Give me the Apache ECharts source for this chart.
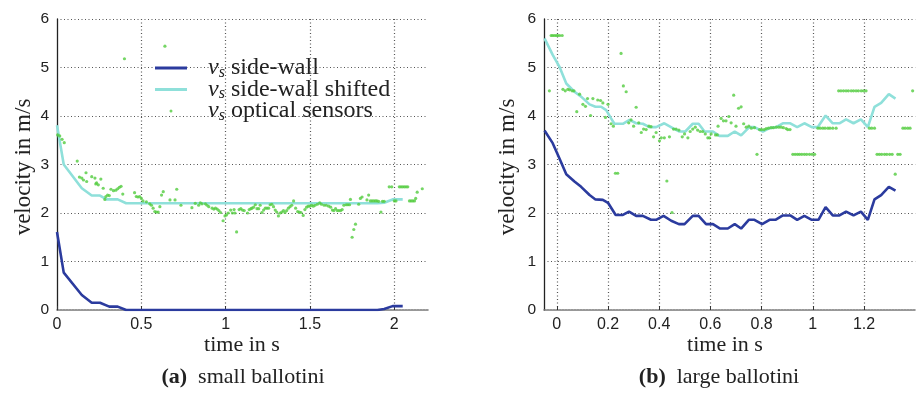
<!DOCTYPE html>
<html><head><meta charset="utf-8">
<script src="https://cdn.jsdelivr.net/npm/echarts@6/dist/echarts.min.js"></script>
<style>html,body{margin:0;padding:0;background:#fff}#c{width:917px;height:400px}</style>
</head><body><div id="c"></div>
<script>
// ---- data: (a) small ballotini ----
const sideWallA = [[0,1.61],[0.04,0.77],[0.147,0.31],[0.206,0.15],[0.255,0.15],[0.31,0.07],[0.36,0.07],[0.41,0],[1.9,0],[1.94,0.02],[1.99,0.08],[2.05,0.08]];
const shiftedA = [[0,3.81],[0.04,3.0],[0.147,2.51],[0.206,2.36],[0.255,2.36],[0.294,2.28],[0.36,2.28],[0.41,2.2],[1.9,2.2],[1.94,2.21],[1.99,2.28],[2.05,2.28]];
const opticalA = [[0.004,3.61],[0.016,3.59],[0.03,3.52],[0.043,3.45],[0.12,3.07],[0.133,2.74],[0.147,2.72],[0.157,2.68],[0.172,2.83],[0.176,2.65],
[0.206,2.75],[0.225,2.72],[0.23,2.6],[0.235,2.62],[0.245,2.58],[0.26,2.7],[0.274,2.51],[0.284,2.28],[0.29,2.34],[0.30,2.37],[0.31,2.36],
[0.32,2.49],[0.335,2.46],[0.349,2.47],[0.36,2.5],[0.37,2.53],[0.38,2.55],[0.39,2.39],[0.40,5.18],
[0.46,2.42],[0.47,2.34],[0.48,2.33],[0.49,2.34],[0.5,2.3],[0.51,2.25],[0.53,2.23],[0.55,2.19],[0.56,2.16],[0.57,2.1],[0.58,2.03],[0.59,2.02],[0.6,2.02],[0.61,2.13],[0.62,2.37],[0.63,2.44],[0.64,5.44],
[0.67,2.27],[0.70,2.27],[0.71,2.49],[0.735,2.16],[0.8,2.11],[0.82,2.2],[0.84,2.16],[0.85,2.21],[0.86,2.19],[0.88,2.19],[0.89,2.16],[0.9,2.13],[0.92,2.1],[0.93,2.08],[0.94,2.1],[0.95,2.08],[0.96,2.05],[0.97,2.01],[0.985,1.84],[0.996,1.94],[1.005,1.96],[1.015,2.0],[1.03,2.06],[1.04,2.0],[1.05,2.07],[1.055,2.0],[1.065,1.61],[1.08,2.07],[1.09,2.09],[1.1,2.06],[1.11,2.05],[1.13,2.0],[1.14,2.07],[1.15,2.09],[1.156,2.1],[1.166,2.12],[1.176,2.17],[1.186,2.09],[1.196,2.09],[1.205,2.16],[1.215,2.01],[1.225,2.06],[1.235,2.1],[1.245,2.1],[1.255,2.1],[1.264,2.17],[1.274,2.18],[1.284,2.13],[1.294,2.06],[1.303,2.02],[1.313,1.94],[1.323,2.0],[1.333,2.02],[1.343,2.05],[1.352,2.01],[1.362,2.05],[1.372,2.1],[1.382,2.13],[1.392,2.16],[1.403,2.25],[1.415,2.1],[1.427,2.03],[1.437,2.02],[1.447,2.01],[1.46,1.95],[1.47,2.07],[1.48,2.12],[1.49,2.14],[1.5,2.14],[1.51,2.16],[1.52,2.14],[1.53,2.16],[1.544,2.18],[1.558,2.21],[1.568,2.18],[1.584,2.16],[1.597,2.16],[1.611,2.14],[1.623,2.12],[1.633,2.06],[1.642,2.05],[1.652,2.09],[1.662,2.05],[1.672,2.05],[1.682,2.05],[1.691,2.07],[1.701,2.16],[1.715,2.17],[1.725,2.17],[1.735,2.17],[1.74,2.28],[1.75,1.5],[1.76,1.66],[1.77,1.77],[1.789,2.18],[1.799,2.3],[1.809,2.33],[1.838,2.27],[1.848,2.37],[1.858,2.25],[1.868,2.25],[1.878,2.25],[1.888,2.25],[1.897,2.25],[1.907,2.24],[1.921,2.02],[1.93,2.24],[1.94,2.24],[1.97,2.54],[1.985,2.54],[2.0,2.25],[2.01,2.25],[2.03,2.54],[2.04,2.54],[2.05,2.54],[2.06,2.54],[2.07,2.54],[2.08,2.54],[2.09,2.25],[2.1,2.25],[2.11,2.25],[2.12,2.25],[2.127,2.3],[2.136,2.43],[2.166,2.5]];

// ---- data: (b) large ballotini ----
const sideWallB = [[-0.048,3.70],[-0.016,3.44],[0.01,3.13],[0.037,2.80],[0.069,2.65],[0.095,2.54],[0.128,2.37],[0.151,2.28],[0.18,2.27],[0.2,2.21],[0.23,1.96],[0.258,1.96],[0.282,2.03],[0.31,1.94],[0.336,1.94],[0.368,1.86],[0.388,1.86],[0.417,1.94],[0.447,1.84],[0.477,1.77],[0.499,1.77],[0.531,1.94],[0.554,1.94],[0.583,1.77],[0.61,1.77],[0.638,1.68],[0.668,1.68],[0.695,1.77],[0.72,1.68],[0.75,1.86],[0.772,1.86],[0.802,1.77],[0.831,1.86],[0.854,1.86],[0.883,1.95],[0.912,1.95],[0.939,1.86],[0.967,1.94],[0.996,1.86],[1.022,1.86],[1.05,2.12],[1.078,1.95],[1.104,1.95],[1.13,2.03],[1.159,1.95],[1.188,2.03],[1.215,1.86],[1.241,2.28],[1.267,2.37],[1.297,2.54],[1.323,2.46]];
const shiftedB = [[-0.048,5.6],[-0.016,5.26],[0.01,5.02],[0.037,4.67],[0.069,4.5],[0.095,4.4],[0.128,4.24],[0.151,4.19],[0.173,4.19],[0.193,4.12],[0.212,3.95],[0.225,3.84],[0.258,3.84],[0.284,3.92],[0.31,3.85],[0.336,3.84],[0.362,3.77],[0.388,3.77],[0.42,3.85],[0.453,3.75],[0.479,3.68],[0.502,3.68],[0.531,3.84],[0.554,3.84],[0.577,3.68],[0.61,3.68],[0.635,3.59],[0.668,3.59],[0.695,3.68],[0.72,3.6],[0.752,3.77],[0.772,3.77],[0.805,3.68],[0.831,3.75],[0.857,3.77],[0.883,3.85],[0.912,3.85],[0.939,3.77],[0.967,3.85],[0.996,3.77],[1.019,3.77],[1.05,4.01],[1.078,3.85],[1.104,3.85],[1.13,3.93],[1.159,3.85],[1.188,3.93],[1.215,3.77],[1.241,4.19],[1.267,4.27],[1.297,4.45],[1.323,4.36]];
const opticalB = [[-0.029,4.52],[-0.022,5.66],[-0.016,5.66],[-0.009,5.66],[-0.002,5.66],[0.004,5.66],[0.011,5.66],[0.021,5.66],[0.024,4.55],[0.033,4.52],[0.043,4.55],[0.05,4.54],[0.06,4.52],[0.067,4.52],[0.078,4.09],[0.089,4.45],[0.102,4.24],[0.112,4.2],[0.12,4.36],[0.132,4.01],[0.141,4.36],[0.16,4.33],[0.171,4.32],[0.18,4.27],[0.19,3.97],[0.2,4.24],[0.212,3.84],[0.221,3.79],[0.229,2.82],[0.238,2.82],[0.251,5.29],[0.26,4.62],[0.271,4.5],[0.281,3.86],[0.29,3.92],[0.3,3.79],[0.31,4.18],[0.32,3.86],[0.33,3.66],[0.339,3.73],[0.349,3.72],[0.36,3.79],[0.368,3.78],[0.378,3.57],[0.388,3.66],[0.401,3.49],[0.408,3.55],[0.42,3.55],[0.43,2.66],[0.44,3.57],[0.45,2.01],[0.456,3.73],[0.466,3.73],[0.477,3.71],[0.49,3.57],[0.499,3.63],[0.512,3.55],[0.521,3.68],[0.531,3.73],[0.541,3.77],[0.55,3.71],[0.56,3.68],[0.57,3.68],[0.58,3.63],[0.59,3.55],[0.597,3.55],[0.603,3.63],[0.62,3.61],[0.627,3.61],[0.63,3.79],[0.642,3.95],[0.651,3.9],[0.661,3.9],[0.672,3.99],[0.681,3.86],[0.691,4.43],[0.7,3.79],[0.71,4.16],[0.72,4.19],[0.73,3.84],[0.74,3.77],[0.75,3.79],[0.76,3.75],[0.772,3.76],[0.782,3.21],[0.792,3.72],[0.80,3.72],[0.81,3.72],[0.818,3.74],[0.827,3.75],[0.837,3.76],[0.846,3.76],[0.857,3.77],[0.867,3.77],[0.876,3.77],[0.885,3.76],[0.896,3.74],[0.902,3.72],[0.911,3.72],
[0.922,3.21],[0.931,3.21],[0.94,3.21],[0.948,3.21],[0.957,3.21],[0.967,3.21],[0.976,3.21],[0.987,3.21],[0.997,3.21],[1.007,3.21],
[1.02,3.75],[1.029,3.75],[1.039,3.75],[1.048,3.75],[1.059,3.75],[1.067,3.75],[1.078,3.75],[1.091,3.75],
[1.101,4.52],[1.11,4.52],[1.12,4.52],[1.13,4.52],[1.139,4.52],[1.15,4.52],[1.159,4.52],[1.169,4.52],[1.178,4.52],[1.189,4.52],[1.198,4.52],[1.208,4.52],
[1.221,3.75],[1.23,3.75],[1.241,3.75],
[1.251,3.21],[1.26,3.21],[1.269,3.21],[1.28,3.21],[1.289,3.21],[1.3,3.21],[1.31,3.21],[1.322,2.8],[1.332,3.21],[1.341,3.21],
[1.352,3.75],[1.361,3.75],[1.371,3.75],[1.38,3.75],[1.39,4.52]];

const yTicks = [0,1,2,3,4,5,6];
const xTicksB = [0,0.2,0.4,0.6,0.8,1,1.2];
const legendSuffix = {'sw':'side-wall','sws':'side-wall shifted','opt':'optical sensors'};
const captions = ['small ballotini','large ballotini'];
const captionTags = ['(a)','(b)'];

const C_BLUE = '#2b3b9e', C_CYAN = '#8fe0da', C_GREEN = '#52cc3e';
const SANS = 'Liberation Sans, Arial, sans-serif';
const SERIF = 'Liberation Serif, Times New Roman, serif';
const GRIDLINE = {color:'#555', width:1.2, type:[1,2.5]};

function xAxisCfg(grid, min, max, extra) {
  return Object.assign({
    type:'value', gridIndex:grid, min:min, max:max,
    axisLine:{show:true, onZero:false, lineStyle:{color:'#777', width:1.6, type:[2,1]}},
    axisTick:{show:true, inside:true, length:4, lineStyle:{color:'#333'}},
    axisLabel:{show:true, fontFamily:SANS, fontSize:16, color:'#222', margin:7, showMinLabel:grid===0, showMaxLabel:false,
      formatter: v => String(+(+v).toFixed(2))},
    splitLine:{show:true, showMinLine:false, showMaxLine:false, lineStyle:GRIDLINE}
  }, extra);
}
function yAxisCfg(grid) {
  return {
    type:'value', gridIndex:grid, min:0, max:6, interval:1,
    axisLine:{show:true, onZero:false, lineStyle:{color:'#222', width:1.3}},
    axisTick:{show:false},
    axisLabel:{fontFamily:SANS, fontSize:15.5, color:'#222', margin:8},
    splitLine:{show:true, showMinLine:false, showMaxLine:true, lineStyle:GRIDLINE}
  };
}
function lineSeries(name, grid, data, color) {
  return {name, type:'line', xAxisIndex:grid, yAxisIndex:grid, data, symbol:'none', showSymbol:false,
    lineStyle:{color, width:2.6}, itemStyle:{color}, z:3};
}
function dotSeries(name, grid, data) {
  return {name, type:'scatter', xAxisIndex:grid, yAxisIndex:grid, data, symbol:'circle', symbolSize:3.2,
    itemStyle:{color:C_GREEN}, z:4};
}

const chart = echarts.init(document.getElementById('c'), null, {renderer:'canvas'});
chart.setOption({
  animation:false,
  backgroundColor:'#fff',
  grid:[
    {left:57, top:19, width:371, height:291},
    {left:544, top:19, width:371.2, height:291}
  ],
  xAxis:[
    xAxisCfg(0,0,2.2,{interval:0.5}),
    xAxisCfg(1,-0.05,1.4,{splitNumber:7})
  ],
  yAxis:[yAxisCfg(0), yAxisCfg(1)],
  legend:{
    show:true, orient:'vertical', left:150, top:51, itemWidth:32, itemHeight:3, itemGap:-3,
    data:[{name:'sw', icon:'rect'},{name:'sws', icon:'rect'},{name:'opt', icon:'circle'}],
    formatter: n => '{v|v}{s|s}{t| ' + legendSuffix[n] + '}',
    textStyle:{
      color:'#222',
      rich:{
        v:{fontFamily:SERIF, fontStyle:'italic', fontSize:24, color:'#222', padding:[0,0,0,16]},
        s:{fontFamily:SERIF, fontStyle:'italic', fontSize:16, color:'#222', padding:[9,0,0,0]},
        t:{fontFamily:SERIF, fontSize:24, color:'#222'}
      }
    }
  },
  series:[
    lineSeries('sw',0,sideWallA,C_BLUE),
    lineSeries('sws',0,shiftedA,C_CYAN),
    dotSeries('opt',0,opticalA),
    lineSeries('sw',1,sideWallB,C_BLUE),
    lineSeries('sws',1,shiftedB,C_CYAN),
    dotSeries('opt',1,opticalB)
  ],
  graphic:[
    {type:'text', x:24, y:167, rotation:Math.PI/2, style:{text:'velocity in m/s', font:'23px '+SERIF, fill:'#222', align:'center', verticalAlign:'middle'}},
    {type:'text', x:508, y:167, rotation:Math.PI/2, style:{text:'velocity in m/s', font:'23px '+SERIF, fill:'#222', align:'center', verticalAlign:'middle'}},
    {type:'text', x:242, y:345, style:{text:'time in s', font:'22px '+SERIF, fill:'#222', align:'center', verticalAlign:'middle'}},
    {type:'text', x:725, y:345, style:{text:'time in s', font:'22px '+SERIF, fill:'#222', align:'center', verticalAlign:'middle'}},
    {type:'text', x:243, y:377, style:{text:'{b|'+captionTags[0]+'}{r|  '+captions[0]+'}', align:'center', verticalAlign:'middle',
      rich:{b:{font:'bold 22px '+SERIF, fill:'#222'}, r:{font:'22px '+SERIF, fill:'#222'}}}},
    {type:'text', x:719, y:377, style:{text:'{b|'+captionTags[1]+'}{r|  '+captions[1]+'}', align:'center', verticalAlign:'middle',
      rich:{b:{font:'bold 22px '+SERIF, fill:'#222'}, r:{font:'22px '+SERIF, fill:'#222'}}}}
  ]
});
</script></body></html>
